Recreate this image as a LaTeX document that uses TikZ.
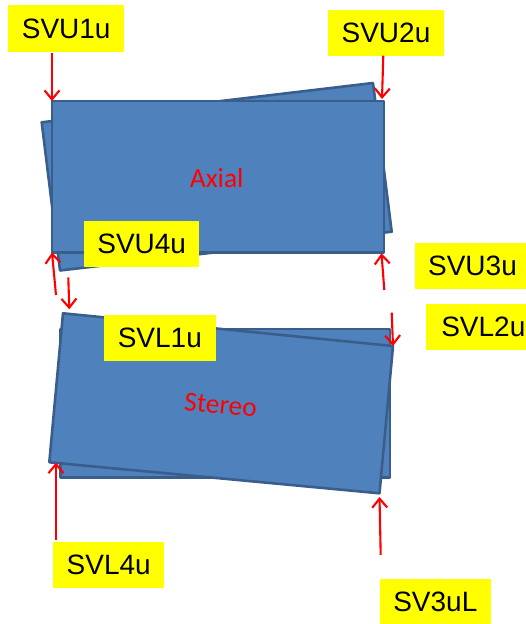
\documentclass[tikz,border=0pt]{standalone}
\usepackage{fontspec}
\setmainfont{Liberation Sans}
\newfontfamily\calibri{Carlito}
\usetikzlibrary{arrows.meta}
\definecolor{panelfill}{HTML}{4F81BD}
\definecolor{paneledge}{HTML}{3A5E8C}
\definecolor{tagfill}{HTML}{FFFF00}
\definecolor{arrowred}{HTML}{FF0000}
\tikzset{
  panel/.style={fill=panelfill, draw=paneledge, line width=2.6pt, line join=round},
  tag/.style={fill=tagfill, inner sep=0pt, minimum width=114pt, minimum height=46pt,
              font=\fontsize{28}{30}\selectfont, text=black},
  pointer/.style={draw=arrowred, line width=2.1pt,
                  -{Straight Barb[length=9pt,width=15pt]}},
  caption/.style={text=arrowred, font=\calibri\fontsize{27.5}{30}\selectfont}
}
\begin{document}
\begin{tikzpicture}[x=1pt,y=-1pt]
\useasboundingbox (0,0) rectangle (526,624);
\clip (0,0) rectangle (526,624);

% upper pair: tilted plate behind the straight one
\coordinate (ub1) at (41.7,122.3);
\coordinate (ub2) at (373,83);
\coordinate (ub3) at (391.7,231.7);
\coordinate (ub4) at (60,270.5);
\coordinate (uf1) at (52,101);
\coordinate (uf2) at (384,101);
\coordinate (uf3) at (384,252.5);
\coordinate (uf4) at (52,252.5);
\draw[panel] (ub1) -- (ub2) -- (ub3) -- (ub4) -- cycle;
\draw[panel] (uf1) -- (uf2) -- (uf3) -- (uf4) -- cycle;
\node[caption] (axial) at (216.7,178.3) {Axial};

% lower pair: straight plate behind the tilted one
\coordinate (lb1) at (60.5,329);
\coordinate (lb2) at (390,329);
\coordinate (lb3) at (390,477.3);
\coordinate (lb4) at (60.5,477.3);
\coordinate (lf1) at (63,313.3);
\coordinate (lf2) at (393,346);
\coordinate (lf3) at (379.5,493.3);
\coordinate (lf4) at (49.3,462.3);
\draw[panel] (lb1) -- (lb2) -- (lb3) -- (lb4) -- cycle;
\draw[panel] (lf1) -- (lf2) -- (lf3) -- (lf4) -- cycle;
\node[caption, rotate=-5.6] (stereo) at (220.7,405) {Stereo};

% labels
\node[tag, minimum width=115.7pt, minimum height=47.3pt] (svu1) at (66.2,28.7) {SVU1u};
\node[tag, minimum width=115.4pt] (svu2) at (386,32.8) {SVU2u};
\node[tag, minimum width=115.3pt] (svu4) at (141.7,243.8) {SVU4u};
\node[tag, minimum width=111.7pt] (svl1) at (159.8,338.3) {SVL1u};
\node[tag, minimum width=115pt] (svu3) at (472.5,266) {SVU3u};
\node[tag, minimum width=115pt] (svl2) at (483.3,326.5) {SVL2u};
\node[tag, minimum width=110.7pt] (svl4) at (108.7,564.8) {SVL4u};
\node[tag, minimum width=111pt] (sv3) at (435.3,602) {SV3uL};

% arrow ends
\coordinate (t2) at (383.3,55.7);
\coordinate (h2) at (382,99);
\coordinate (t3) at (56,295);
\coordinate (t4) at (68.3,277.3);
\coordinate (h4) at (69.3,309.3);
\coordinate (t5) at (384.3,290);
\coordinate (h5) at (381.5,253.3);
\coordinate (t6) at (391.7,312.7);
\coordinate (t7) at (56,540);
\coordinate (h7) at (56,462.5);
\coordinate (t8) at (380.7,555);
\coordinate (h8) at (379.5,497);

\draw[pointer] (svu1.south -| uf1) -- (uf1);
\draw[pointer] (t2) -- (h2);
\draw[pointer] (t3) -- (uf4);
\draw[pointer] (t4) -- (h4);
\draw[pointer] (t5) -- (h5);
\draw[pointer] (t6) -- (lf2);
\draw[pointer] (t7) -- (h7);
\draw[pointer] (t8) -- (h8);
\end{tikzpicture}
\end{document}
